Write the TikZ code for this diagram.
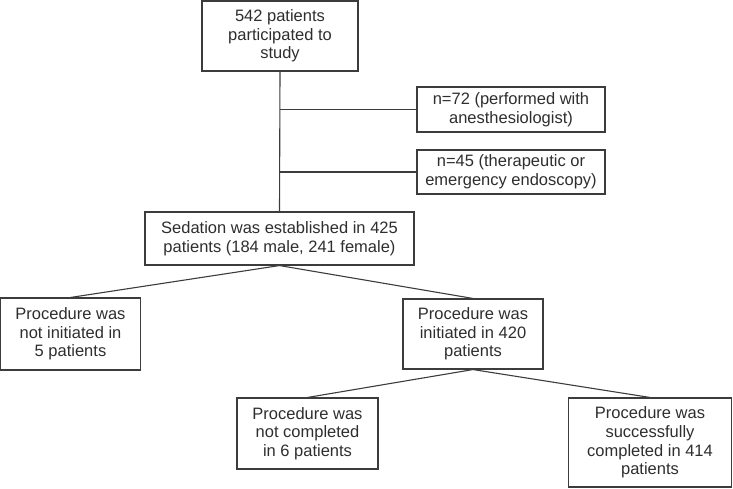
\documentclass[tikz,border=0pt]{standalone}
\usepackage{fontspec}
\setmainfont{Liberation Sans}
\definecolor{txt}{HTML}{2E2E2E}
\definecolor{ln}{HTML}{3C3C3C}
\begin{document}
\begin{tikzpicture}[x=1pt,y=-1pt,
  box/.style={draw=ln, line width=1.1pt, rectangle, inner sep=0pt, align=center,
    text=txt, font=\fontsize{16.5}{18.6}\selectfont},
  conn/.style={draw=ln, line width=1.1pt}]
\useasboundingbox (0,0) rectangle (733,488);
\node[box, minimum width=156, minimum height=70] (top) at (280,36) {542 patients\\participated to\\study};
\node[box, minimum width=188, minimum height=45] (n72) at (511,109.5) {n=72 (performed with\\anesthesiologist)};
\node[box, minimum width=188, minimum height=44] (n45) at (511,172) {n=45 (therapeutic or\\emergency endoscopy)};
\node[box, minimum width=269, minimum height=53] (sed) at (279.5,238.5) {Sedation was established in 425\\patients (184 male, 241 female)};
\node[box, minimum width=140, minimum height=72] (notinit) at (70.5,334) {Procedure was\\not initiated in\\5 patients};
\node[box, minimum width=140, minimum height=70] (init) at (473,334) {Procedure was\\initiated in 420\\patients};
\node[box, minimum width=141, minimum height=71] (notcomp) at (307.5,433.5) {Procedure was\\not completed\\in 6 patients};
\node[box, minimum width=163, minimum height=89] (comp) at (650,442.5) {Procedure was\\successfully\\completed in 414\\patients};
\coordinate (b1) at (top.south |- n72.west);
\coordinate (b2) at (top.south |- n45.west);
\draw[conn] (top.south) -- (sed.north);
\draw[conn] (b1) -- (n72.west);
\draw[conn] (b2) -- (n45.west);
\draw[conn] (sed.south) -- (notinit.north);
\draw[conn] (sed.south) -- (init.north);
\draw[conn] (init.south) -- (notcomp.north);
\draw[conn] (init.south) -- (comp.north);
\end{tikzpicture}
\end{document}
